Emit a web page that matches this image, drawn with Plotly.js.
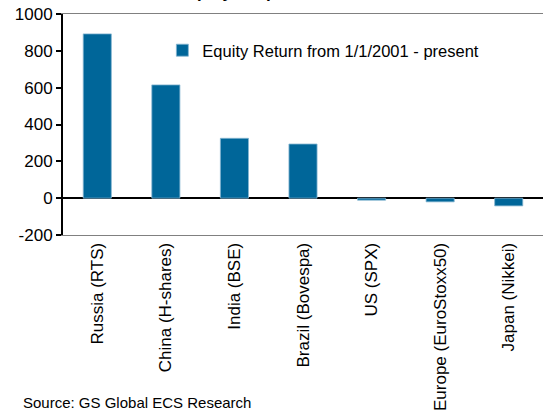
<!DOCTYPE html>
<html>
<head>
<meta charset="utf-8">
<script src="https://cdn.plot.ly/plotly-3.0.1.min.js"></script>
<style>html,body{margin:0;padding:0;background:#fff;}#chart{width:543px;height:413px;}</style>
</head>
<body>
<div id="chart"></div>
<script>
const categories = ["Russia (RTS)", "China (H-shares)", "India (BSE)", "Brazil (Bovespa)", "US (SPX)", "Europe (EuroStoxx50)", "Japan (Nikkei)"];
const equityReturn = [892, 615, 325, 294, -11, -20, -42];
const seriesName = "Equity Return from 1/1/2001 - present";
const yTicks = [-200, 0, 200, 400, 600, 800, 1000];

const FONT = "Liberation Sans, Arial, sans-serif";

const trace = {
  type: "bar",
  x: categories,
  y: equityReturn,
  name: seriesName,
  marker: {color: "#006699", line: {color: "#86b6d2", width: 0.8}},
  showlegend: true
};

const layout = {
  width: 543,
  height: 413,
  margin: {l: 63, r: 0, t: 14, b: 178},
  paper_bgcolor: "#fff",
  plot_bgcolor: "#fff",
  font: {family: FONT, size: 17, color: "#000"},
  bargap: 0.59,
  showlegend: true,
  legend: {
    x: 0.207, y: 0.835, xanchor: "left", yanchor: "middle",
    bgcolor: "rgba(0,0,0,0)",
    font: {family: FONT, size: 16.5, color: "#000"},
    itemwidth: 30
  },
  xaxis: {
    type: "category",
    tickangle: -90,
    showgrid: false,
    zeroline: false,
    showline: true,
    linecolor: "#808080",
    linewidth: 1,
    mirror: true,
    ticks: "",
    tickfont: {family: FONT, size: 17, color: "#000"},
    fixedrange: true
  },
  yaxis: {
    range: [-200, 1000],
    tickvals: yTicks,
    ticktext: yTicks.map(String),
    showgrid: false,
    zeroline: true,
    zerolinecolor: "#000",
    zerolinewidth: 2,
    showline: true,
    linecolor: "#000",
    linewidth: 2,
    ticks: "outside",
    ticklen: 5,
    tickwidth: 2,
    tickcolor: "#000",
    tickfont: {family: FONT, size: 17, color: "#000"},
    fixedrange: true
  },
  annotations: [
    {
      text: "<b>Equity Outperformance vs. US</b>",
      xref: "paper", yref: "paper",
      x: 0.5, y: 1, xanchor: "center", yanchor: "bottom",
      yshift: 10,
      showarrow: false,
      font: {family: FONT, size: 17, color: "#000"}
    },
    {
      text: "Source: GS Global ECS Research",
      xref: "paper", yref: "paper",
      x: -0.0875, y: -0.76, xanchor: "left", yanchor: "middle",
      showarrow: false,
      font: {family: FONT, size: 15, color: "#000"}
    }
  ]
};

Plotly.newPlot("chart", [trace], layout, {staticPlot: true, displayModeBar: false});
</script>
</body>
</html>
